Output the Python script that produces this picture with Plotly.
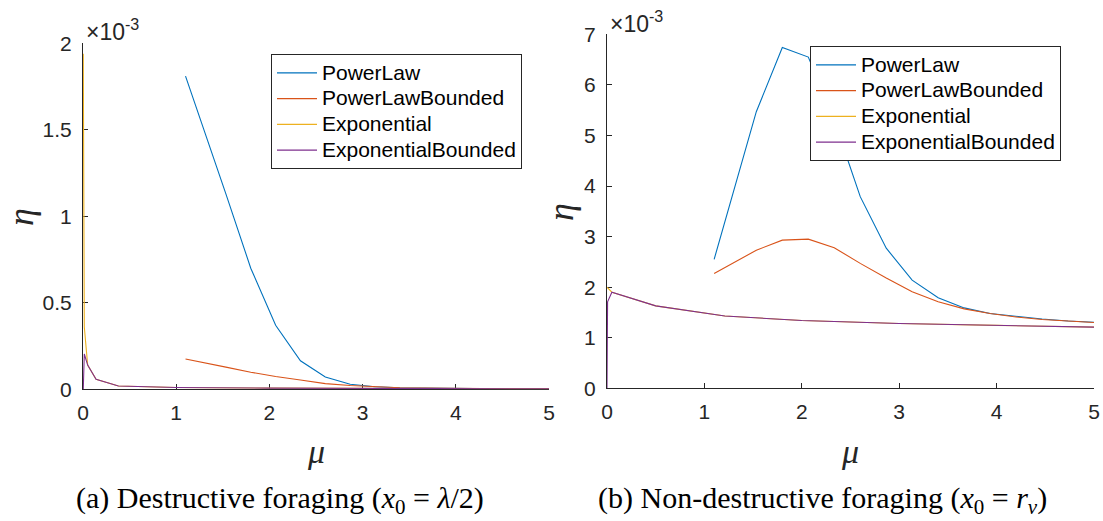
import plotly.graph_objects as go

W, H = 1103, 521

series_names = ["PowerLaw", "PowerLawBounded", "Exponential", "ExponentialBounded"]
colors = ["#0072BD", "#D95319", "#EDB120", "#7E2F8E"]

# eta values are in units of 1e-3
# ---- (a) Destructive foraging ----
mu_pl = [1.1, 1.267, 1.533, 1.8, 2.067, 2.333, 2.6, 2.867, 3.133, 3.4, 3.667, 3.933, 4.2, 4.467, 4.733, 5.0]
a_powerlaw = [1.81, 1.55, 1.13, 0.70, 0.37, 0.165, 0.071, 0.029, 0.015, 0.009, 0.006, 0.005, 0.004, 0.003, 0.003, 0.002]
a_powerlaw_bounded = [0.175, 0.158, 0.128, 0.099, 0.074, 0.054, 0.033, 0.022, 0.014, 0.009, 0.007, 0.005, 0.004, 0.004, 0.003, 0.003]
a_mu_exp = [0.003, 0.014, 0.05, 0.14, 0.38, 1.0, 2.0, 3.0, 4.0, 5.0]
a_exponential = [1.94, 0.36, 0.14, 0.058, 0.019, 0.010, 0.007, 0.005, 0.004, 0.003]
a_exponential_bounded = [0.0, 0.204, 0.14, 0.058, 0.019, 0.010, 0.007, 0.005, 0.004, 0.003]

# ---- (b) Non-destructive foraging ----
b_powerlaw = [2.55, 3.67, 5.47, 6.74, 6.55, 5.3, 3.79, 2.77, 2.14, 1.79, 1.59, 1.48, 1.42, 1.37, 1.33, 1.305]
b_powerlaw_bounded = [2.27, 2.45, 2.73, 2.93, 2.95, 2.78, 2.47, 2.18, 1.91, 1.71, 1.57, 1.48, 1.41, 1.36, 1.33, 1.30]
b_mu_exp = [0.0, 0.006, 0.05, 0.5, 1.21, 2.0, 3.0, 4.0, 5.0]
b_exponential = [2.0, 1.99, 1.90, 1.63, 1.43, 1.34, 1.28, 1.245, 1.21]
b_exponential_bounded = [0.0, 1.71, 1.90, 1.63, 1.43, 1.34, 1.28, 1.245, 1.21]

x_ticks = [0, 1, 2, 3, 4, 5]
a_y_ticks = [0, 0.5, 1, 1.5, 2]
b_y_ticks = [0, 1, 2, 3, 4, 5, 6, 7]

SANS = "Liberation Sans, Arial, Helvetica, sans-serif"
SERIF = "Liberation Serif, Times New Roman, serif"
AX = "#262626"

fig = go.Figure()

panels = [
    ("x", "y", "legend", [mu_pl, mu_pl, a_mu_exp, a_mu_exp],
     [a_powerlaw, a_powerlaw_bounded, a_exponential, a_exponential_bounded]),
    ("x2", "y2", "legend2", [mu_pl, mu_pl, b_mu_exp, b_mu_exp],
     [b_powerlaw, b_powerlaw_bounded, b_exponential, b_exponential_bounded]),
]
for xa, ya, lg, xs, ys in panels:
    for name, col, xv, yv in zip(series_names, colors, xs, ys):
        fig.add_trace(go.Scatter(x=xv, y=yv, mode="lines",
                                 name=f'<span style="font-size:21px">{name}</span>',
                                 line=dict(color=col, width=1.1),
                                 xaxis=xa, yaxis=ya, legend=lg))

def axis(**kw):
    d = dict(showline=True, linecolor=AX, linewidth=1, ticks="inside", ticklen=5,
             tickcolor=AX, tickwidth=1, showgrid=False, zeroline=False,
             tickfont=dict(family=SANS, size=21, color=AX), mirror=False,
             fixedrange=True, automargin=False, layer="below traces")
    d.update(kw)
    return d

legend_common = dict(xanchor="left", yanchor="top", bordercolor=AX, borderwidth=1,
                     bgcolor="white", font=dict(family=SANS, size=17.5, color="black"),
                     itemwidth=40, tracegroupgap=0)

fig.update_layout(
    width=W, height=H, autosize=False,
    margin=dict(l=0, r=0, t=0, b=0, pad=0, autoexpand=False),
    paper_bgcolor="white", plot_bgcolor="white",
    xaxis=axis(domain=[83 / W, 549 / W], range=[0, 5], tickvals=x_ticks, anchor="y",
               ticklabelstandoff=4),
    yaxis=axis(domain=[1 - 389.3 / H, 1 - 43.3 / H], range=[0, 2], tickvals=a_y_ticks,
               ticktext=[f"{v:g}" for v in a_y_ticks], anchor="x", ticklabelstandoff=6),
    xaxis2=axis(domain=[607 / W, 1094 / W], range=[0, 5], tickvals=x_ticks, anchor="y2",
                ticklabelstandoff=4),
    yaxis2=axis(domain=[1 - 388.3 / H, 1 - 34.3 / H], range=[0, 7], tickvals=b_y_ticks,
                anchor="x2", ticklabelstandoff=6),
    legend=dict(x=271 / W, y=1 - 54 / H, **legend_common),
    legend2=dict(x=810 / W, y=1 - 46 / H, **legend_common),
    showlegend=True,
)

ann = []
# exponent labels
ann.append(dict(x=84 / W, y=1 - 30 / H, xref="paper", yref="paper", xanchor="left",
                yanchor="middle", showarrow=False, text="×10<sup>-3</sup>",
                font=dict(family=SANS, size=23, color=AX)))
ann.append(dict(x=608 / W, y=1 - 22 / H, xref="paper", yref="paper", xanchor="left",
                yanchor="middle", showarrow=False, text="×10<sup>-3</sup>",
                font=dict(family=SANS, size=23, color=AX)))
# y labels
for xpx, ypx in [(21, 217), (561, 212)]:
    ann.append(dict(x=xpx / W, y=1 - ypx / H, xref="paper", yref="paper",
                    xanchor="center", yanchor="middle", showarrow=False, textangle=-90,
                    text="<i>η</i>", font=dict(family=SERIF, size=36, color=AX)))
# x labels
for xpx in [316, 850]:
    ann.append(dict(x=xpx / W, y=1 - 451 / H, xref="paper", yref="paper",
                    xanchor="center", yanchor="middle", showarrow=False,
                    text="<i>μ</i>", font=dict(family=SERIF, size=34, color=AX)))
# captions
ann.append(dict(x=280 / W, y=1 - 500 / H, xref="paper", yref="paper", xanchor="center",
                yanchor="middle", showarrow=False,
                text="(a) Destructive foraging (<i>x</i><sub>0</sub> = <i>λ</i>/2)",
                font=dict(family=SERIF, size=30, color="black")))
ann.append(dict(x=822 / W, y=1 - 500 / H, xref="paper", yref="paper", xanchor="center",
                yanchor="middle", showarrow=False,
                text="(b) Non-destructive foraging (<i>x</i><sub>0</sub> = <i>r<sub>v</sub></i>)",
                font=dict(family=SERIF, size=30, color="black")))
fig.update_layout(annotations=ann)

fig.write_html("out.html")
